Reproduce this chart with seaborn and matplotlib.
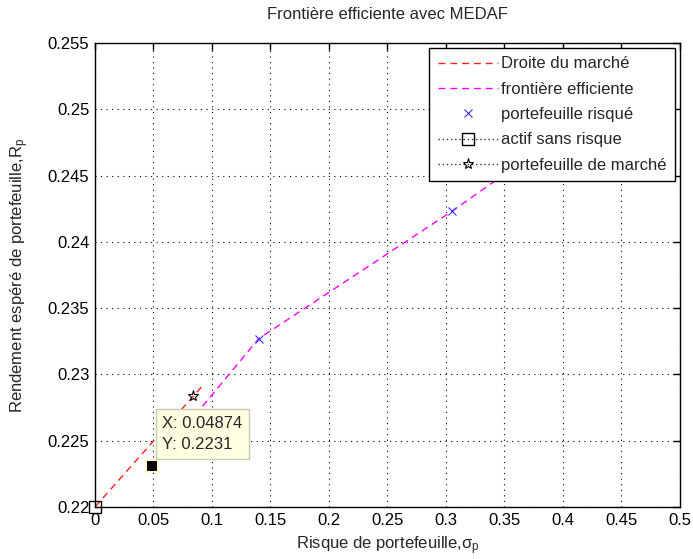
import numpy as np
import pandas as pd
import matplotlib
matplotlib.use("Agg")
import matplotlib.pyplot as plt
import seaborn as sns
from matplotlib.ticker import MultipleLocator, FuncFormatter

# Données
frontier_sigma = [0.092, 0.14, 0.305, 0.45]
frontier_ret = [0.2276, 0.2327, 0.2423, 0.2513]

cml_sigma = [0.0, 0.0915]
cml_ret = [0.2200, 0.2291]

risky_sigma = [0.14, 0.305]
risky_ret = [0.2327, 0.2423]

rf_sigma = [0.0]
rf_ret = [0.22]

market_sigma = [0.0838]
market_ret = [0.2284]

tip_x = 0.04874
tip_y = 0.2231

FS = 12

sns.set_style("white")
plt.rcParams["font.family"] = ["Liberation Sans", "DejaVu Sans"]
plt.rcParams["font.size"] = FS
plt.rcParams["mathtext.fontset"] = "custom"
plt.rcParams["mathtext.rm"] = "Liberation Sans"
plt.rcParams["mathtext.it"] = "Liberation Sans"

fig = plt.figure(figsize=(6.93, 5.59), dpi=100)
ax = fig.add_axes([0.137, 0.093, 0.844, 0.830])

sns.lineplot(x=cml_sigma, y=cml_ret, ax=ax, color="#ff2020", linewidth=1,
             label="Droite du marché", sort=False)
ax.lines[-1].set_linestyle((0, (5, 3.5)))
sns.lineplot(x=frontier_sigma, y=frontier_ret, ax=ax, color="#ff00ff", linewidth=1,
             label="frontière efficiente", sort=False)
ax.lines[-1].set_linestyle((0, (5, 3.5)))
ax.plot(risky_sigma, risky_ret, linestyle="none", marker="x", color="#3333ff",
        markersize=6, markeredgewidth=0.8, label="portefeuille risqué")
ax.plot(rf_sigma, rf_ret, linestyle=(0, (1, 2)), linewidth=1, marker="s",
        color="#333333", markeredgecolor="black", markerfacecolor="none",
        markersize=8, markeredgewidth=1, label="actif sans risque",
        clip_on=False, zorder=5)
ax.plot(market_sigma, market_ret, linestyle=(0, (1, 2)), linewidth=1, marker="*",
        color="#333333", markeredgecolor="black", markerfacecolor="none",
        markersize=8, markeredgewidth=0.8, label="portefeuille de marché")

# Curseur de données
ax.plot([tip_x], [tip_y], linestyle="none", marker="s", color="black",
        markersize=8, markeredgecolor="#ffffcc", markeredgewidth=1.5, zorder=6)
ax.annotate(f"X: {tip_x}\nY: {tip_y}", xy=(tip_x, tip_y), xytext=(0.0575, 0.2255),
            fontsize=FS, va="center", ha="left", linespacing=1.5,
            bbox=dict(boxstyle="square,pad=0.4", fc="#ffffe1", ec="#c8c8b4", lw=1),
            zorder=7)

ax.set_xlim(0, 0.5)
ax.set_ylim(0.22, 0.255)
ax.xaxis.set_major_locator(MultipleLocator(0.05))
ax.yaxis.set_major_locator(MultipleLocator(0.005))
fmt = FuncFormatter(lambda v, p: f"{round(v, 4):g}")
ax.xaxis.set_major_formatter(fmt)
ax.yaxis.set_major_formatter(fmt)
ax.tick_params(direction="in", length=5, width=1, colors="black", labelsize=FS,
               top=True, right=True, pad=4)
ax.grid(True, color="black", linestyle=(0, (1, 4)), linewidth=0.8)
for s in ax.spines.values():
    s.set_color("black")
    s.set_linewidth(1)

ax.set_title("Frontière efficiente avec MEDAF", fontsize=FS, pad=17)
ax.set_xlabel(r"Risque de portefeuille,$\sigma_\mathrm{p}$", fontsize=FS, labelpad=5)
ax.set_ylabel(r"Rendement espéré de portefeuille,$\mathrm{R_p}$", fontsize=FS, labelpad=12)

leg = ax.legend(loc="upper right", frameon=True, fancybox=False, edgecolor="black",
                framealpha=1, handlelength=3.6, borderaxespad=0.3, borderpad=0.5,
                handletextpad=0.2, labelspacing=0.62, fontsize=FS)
leg.get_frame().set_linewidth(1)

plt.savefig("out.png", dpi=100)
plt.close()
